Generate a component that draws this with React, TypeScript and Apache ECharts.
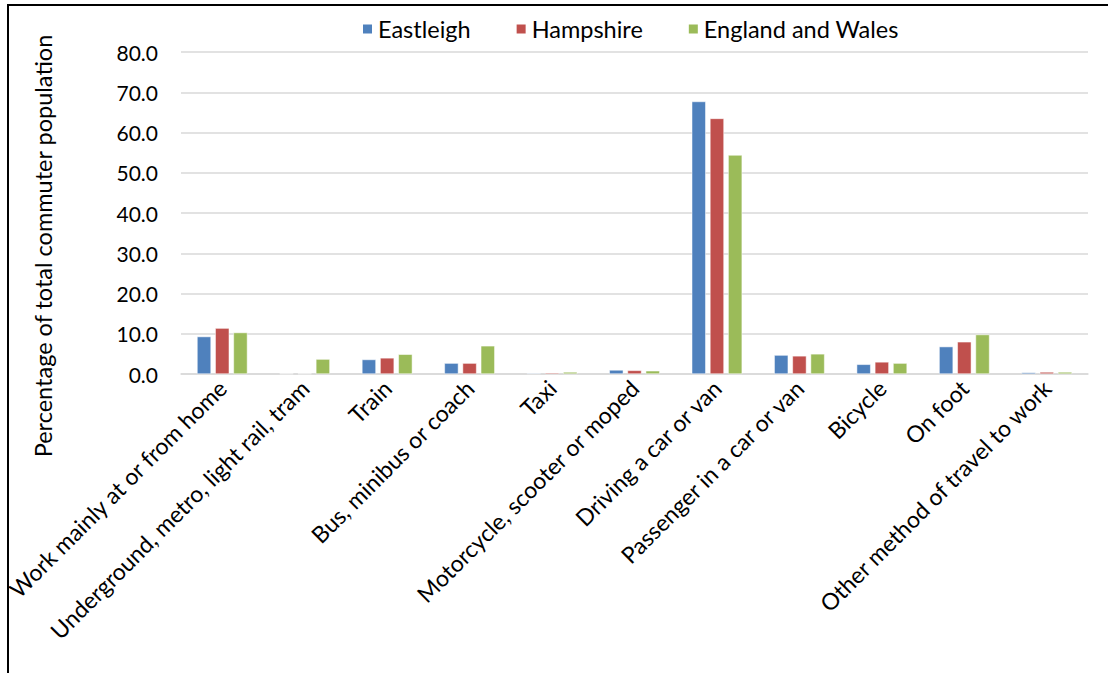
import React, { useEffect, useRef } from "react";
import * as echarts from "echarts";

const categories = [
  "Work mainly at or from home",
  "Underground, metro, light rail, tram",
  "Train",
  "Bus, minibus or coach",
  "Taxi",
  "Motorcycle, scooter or moped",
  "Driving a car or van",
  "Passenger in a car or van",
  "Bicycle",
  "On foot",
  "Other method of travel to work",
];
const eastleigh = [9.3, 0.1, 3.6, 2.7, 0.2, 1.0, 67.7, 4.7, 2.4, 6.8, 0.4];
const hampshire = [11.4, 0.1, 4.0, 2.7, 0.3, 0.9, 63.5, 4.5, 3.0, 8.0, 0.5];
const englandWales = [10.3, 3.7, 4.9, 7.0, 0.5, 0.8, 54.4, 5.0, 2.7, 9.8, 0.5];
const yTicks = { min: 0, max: 80, interval: 10 };

const FONT = "Lato, 'Open Sans', sans-serif";

export default function App() {
  const ref = useRef<HTMLDivElement>(null);
  useEffect(() => {
    if (!ref.current) return;
    const chart = echarts.init(ref.current, null, { renderer: "svg" });
    const mk = (name: string, data: number[], color: string) => ({
      name,
      type: "bar",
      data,
      barWidth: 14,
      barGap: "30%",
      itemStyle: { color, borderColor: "#ffffff", borderWidth: 0.5 },
    });
    chart.setOption({
      animation: false,
      backgroundColor: "#ffffff",
      textStyle: { fontFamily: FONT },
      legend: {
        top: 12,
        left: 356,
        itemWidth: 11,
        itemHeight: 11,
        itemGap: 44,
        icon: "rect",
        textStyle: { fontSize: 23.5, color: "#000000", fontFamily: FONT },
        data: ["Eastleigh", "Hampshire", "England and Wales"],
      },
      grid: { left: 181, right: 20, top: 52, bottom: 299, containLabel: false },
      xAxis: {
        type: "category",
        data: categories,
        axisLine: { lineStyle: { color: "#D9D9D9", width: 1.5 } },
        axisTick: { show: false },
        axisLabel: {
          rotate: 45,
          interval: 0,
          margin: 10,
          fontSize: 23,
          color: "#000000",
          fontFamily: FONT,
        },
      },
      yAxis: {
        type: "value",
        min: yTicks.min,
        max: yTicks.max,
        interval: yTicks.interval,
        axisLine: { show: false },
        axisTick: { show: false },
        splitLine: { lineStyle: { color: "#D9D9D9", width: 1.5 } },
        axisLabel: {
          formatter: (v: number) => v.toFixed(1),
          fontSize: 21,
          color: "#000000",
          margin: 23,
          fontFamily: FONT,
        },
      },
      graphic: [
        {
          type: "rect",
          shape: { x: 8, y: 5, width: 1200, height: 800 },
          style: { fill: "none", stroke: "#000000", lineWidth: 2 },
          silent: true,
        },
        {
          type: "text",
          x: 43,
          y: 246,
          rotation: Math.PI / 2,
          style: {
            text: "Percentage of total commuter population",
            fontSize: 23.5,
            fontFamily: FONT,
            fill: "#000000",
            align: "center",
            verticalAlign: "middle",
          },
        },
      ],
      series: [
        mk("Eastleigh", eastleigh, "#4F81BD"),
        mk("Hampshire", hampshire, "#C0504D"),
        mk("England and Wales", englandWales, "#9BBB59"),
      ],
    });
    return () => chart.dispose();
  }, []);
  return (
    <div
      ref={ref}
      style={{ position: "fixed", left: 0, top: 0, width: 1108, height: 673 }}
    />
  );
}
